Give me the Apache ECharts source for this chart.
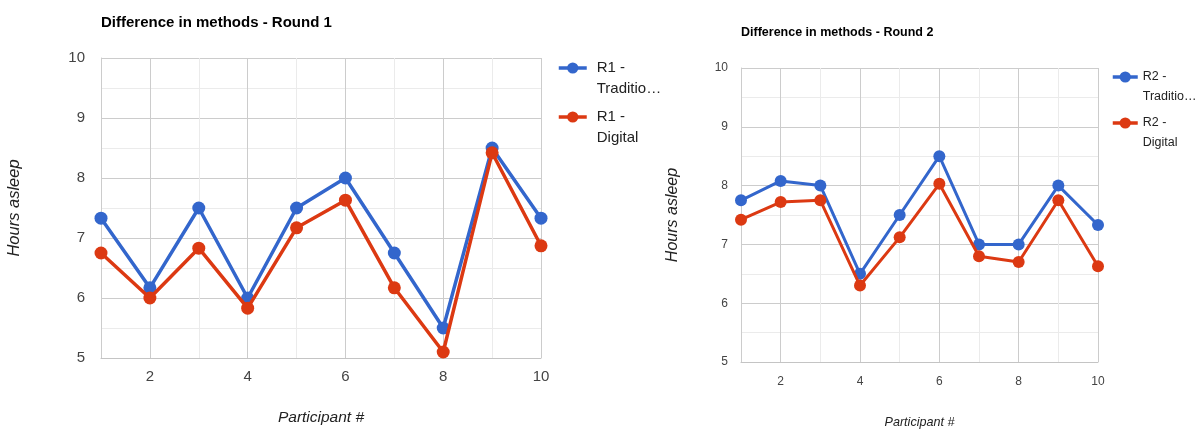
<!DOCTYPE html>
<html>
<head>
<meta charset="utf-8">
<title>Difference in methods</title>
<script src="https://cdn.jsdelivr.net/npm/echarts@6/dist/echarts.min.js"></script>
<style>
  html, body { margin: 0; padding: 0; background: #ffffff; }
  #chart { width: 1202px; height: 431px; }
</style>
</head>
<body>
<div id="chart"></div>
<script>
// Participant numbers (x axis)
const participants = [1, 2, 3, 4, 5, 6, 7, 8, 9, 10];

// Hours asleep per participant, round 1
const r1Traditional = [7.33, 6.17, 7.5, 6.0, 7.5, 8.0, 6.75, 5.5, 8.5, 7.33];
const r1Digital     = [6.75, 6.0, 6.83, 5.83, 7.17, 7.63, 6.17, 5.1, 8.42, 6.87];

// Hours asleep per participant, round 2
const r2Traditional = [7.75, 8.08, 8.0, 6.5, 7.5, 8.5, 7.0, 7.0, 8.0, 7.33];
const r2Digital     = [7.42, 7.72, 7.75, 6.3, 7.12, 8.03, 6.8, 6.7, 7.75, 6.63];

// Titles, series names and legend labels (leading blank line keeps the
// first text line level with the legend marker)
const titles = ['Difference in methods - Round 1', 'Difference in methods - Round 2'];
const seriesNames = ['R1 - Traditional', 'R1 - Digital', 'R2 - Traditional', 'R2 - Digital'];
const legendLabels = {
  'R1 - Traditional': '\nR1 -\nTraditio\u2026',
  'R1 - Digital': '\nR1 -\nDigital',
  'R2 - Traditional': '\nR2 -\nTraditio\u2026',
  'R2 - Digital': '\nR2 -\nDigital'
};
const xAxisName = 'Participant #';
const yAxisName = 'Hours asleep';

const BLUE = '#3366cc';
const RED = '#dc3912';
const SANS = "'Liberation Sans', Arial, sans-serif";

const pairs = (vals) => participants.map((p, i) => [p, vals[i]]);

function makeXAxis(gridIndex, s) {
  return {
    type: 'value', gridIndex, min: 1, max: 10, interval: 1,
    name: xAxisName, nameLocation: 'middle', nameGap: s.xNameGap,
    nameTextStyle: { fontFamily: SANS, fontSize: s.xNameSize, fontStyle: 'italic', color: '#222' },
    axisLine: { show: true, lineStyle: { color: '#c4c4c4', width: 1 } },
    axisTick: { show: false },
    axisLabel: {
      margin: s.xLabelMargin, fontFamily: SANS, fontSize: s.tickSize, color: '#444',
      formatter: (v) => (v % 2 === 0 ? String(v) : '')
    },
    splitLine: { show: true, lineStyle: { color: ['#ebebeb', '#cccccc'], width: 1 } }
  };
}

function makeYAxis(gridIndex, s) {
  return {
    type: 'value', gridIndex, min: 5, max: 10, interval: 1,
    name: yAxisName, nameLocation: 'middle', nameGap: s.yNameGap, nameRotate: 90,
    nameTextStyle: { fontFamily: SANS, fontSize: s.yNameSize, fontStyle: 'italic', color: '#222' },
    axisLine: { show: true, lineStyle: { color: '#cccccc', width: 1 } },
    axisTick: { show: false },
    axisLabel: { margin: s.yLabelMargin, fontFamily: SANS, fontSize: s.tickSize, color: '#444' },
    splitLine: { show: true, lineStyle: { color: '#cccccc', width: 1 } },
    minorTick: { show: false, splitNumber: 2 },
    minorSplitLine: { show: true, lineStyle: { color: '#ebebeb', width: 1 } }
  };
}

function makeSeries(name, values, color, axisIndex, size, lineWidth) {
  return {
    name, type: 'line', xAxisIndex: axisIndex, yAxisIndex: axisIndex,
    data: pairs(values),
    symbol: 'circle', symbolSize: size, showSymbol: true,
    lineStyle: { color, width: lineWidth },
    itemStyle: { color },
    emphasis: { disabled: true },
    z: color === RED ? 3 : 2
  };
}

function makeLegend(names, left, top, s) {
  return {
    orient: 'vertical', left, top, padding: 0,
    itemWidth: s.iconWidth, itemHeight: 14, itemGap: -14,
    data: names,
    lineStyle: { width: 3.5 },
    formatter: (n) => legendLabels[n],
    textStyle: {
      fontFamily: SANS, fontSize: s.legendSize, color: '#222',
      lineHeight: s.legendLine, padding: [0, 0, 0, s.legendPad]
    }
  };
}

// Per-panel text sizes and spacing
const panel1 = { tickSize: 15, xNameSize: 15.5, yNameSize: 16.5, xNameGap: 52, yNameGap: 78,
  xLabelMargin: 11, yLabelMargin: 16, legendSize: 15, legendLine: 21, legendPad: 5, iconWidth: 28 };
const panel2 = { tickSize: 12, xNameSize: 12.6, yNameSize: 16, xNameGap: 54, yNameGap: 60,
  xLabelMargin: 14, yLabelMargin: 13, legendSize: 12.5, legendLine: 20, legendPad: 0, iconWidth: 25 };

const chart = echarts.init(document.getElementById('chart'), null, { renderer: 'canvas' });

chart.setOption({
  animation: false,
  backgroundColor: '#ffffff',
  title: [
    { text: titles[0], left: 101, top: 15, padding: 0,
      textStyle: { fontFamily: SANS, fontSize: 15, fontWeight: 'bold', color: '#000' } },
    { text: titles[1], left: 741, top: 26, padding: 0,
      textStyle: { fontFamily: SANS, fontSize: 12.5, fontWeight: 'bold', color: '#000' } }
  ],
  legend: [
    makeLegend([seriesNames[0], seriesNames[1]], 557, 36.5, panel1),
    makeLegend([seriesNames[2], seriesNames[3]], 1111, 47, panel2)
  ],
  grid: [
    { left: 101, top: 58, width: 440, height: 300, outerBoundsMode: 'none' },
    { left: 741, top: 68, width: 357, height: 294, outerBoundsMode: 'none' }
  ],
  xAxis: [makeXAxis(0, panel1), makeXAxis(1, panel2)],
  yAxis: [makeYAxis(0, panel1), makeYAxis(1, panel2)],
  series: [
    makeSeries(seriesNames[0], r1Traditional, BLUE, 0, 13, 3.5),
    makeSeries(seriesNames[1], r1Digital, RED, 0, 13, 3.5),
    makeSeries(seriesNames[2], r2Traditional, BLUE, 1, 12, 3),
    makeSeries(seriesNames[3], r2Digital, RED, 1, 12, 3)
  ]
});
</script>
</body>
</html>
